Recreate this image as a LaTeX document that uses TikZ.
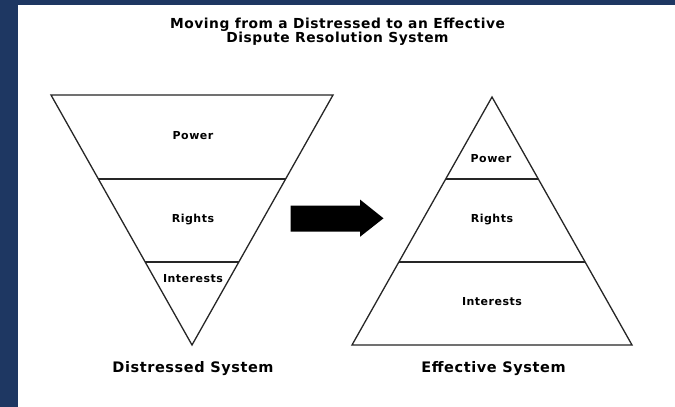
\documentclass[tikz,border=0pt]{standalone}
\usepackage{fontspec}
\setmainfont{DejaVu Sans}
\begin{document}
\begin{tikzpicture}[x=1pt,y=-1pt,
  edge/.style={draw=black!85,line width=1.3pt,line join=miter},
  tier/.style={font=\fontsize{11}{13}\selectfont\bfseries\addfontfeature{LetterSpace=4.5},anchor=mid,inner sep=0pt},
  caption/.style={font=\fontsize{14.5}{17}\selectfont\bfseries\addfontfeature{LetterSpace=4},anchor=mid,inner sep=0pt},
  heading/.style={font=\fontsize{13.8}{15}\selectfont\bfseries\addfontfeature{LetterSpace=4},anchor=base,inner sep=0pt}]
\definecolor{frame}{RGB}{30,55,98}
\useasboundingbox (0,0) rectangle (675,407);
\fill[white] (0,0) rectangle (675,407);
% dark frame along the left and top edges
\fill[frame] (0,0) rectangle (18,407);
\fill[frame] (0,0) rectangle (675,5);

% title
\node[heading] (title1) at (337.5,28.5) {Moving from a Distressed to an Effective};
\node[heading] (title2) at (337.5,42.5) {Dispute Resolution System};

% inverted triangle: distressed system
\coordinate (dTL) at (51,95);
\coordinate (dTR) at (333,95);
\coordinate (dTip) at (192,345);
\draw[edge] (dTL) -- (dTR) -- (dTip) -- cycle;
\draw[edge] (98.4,179) -- (285.6,179);
\draw[edge] (145,262) -- (239,262);
\node[tier] (dPower) at (193,137) {Power};
\node[tier] (dRights) at (193,220) {Rights};
\node[tier] (dInterests) at (193,280) {Interests};
\node[caption] (dCap) at (193,369.5) {Distressed System};

% upright triangle: effective system
\coordinate (eTop) at (492,97);
\coordinate (eBL) at (352,345);
\coordinate (eBR) at (632,345);
\draw[edge] (eTop) -- (eBR) -- (eBL) -- cycle;
\draw[edge] (446,179) -- (538,179);
\draw[edge] (399,262) -- (585,262);
\node[tier] (ePower) at (491,160) {Power};
\node[tier] (eRights) at (492,220) {Rights};
\node[tier] (eInterests) at (492,303) {Interests};
\node[caption] (eCap) at (493.5,369.5) {Effective System};

% block arrow between the two systems
\fill[black] (290.5,205.5) -- (360,205.5) -- (360,199.5) -- (383.5,218.3)
  -- (360,236.8) -- (360,231.5) -- (290.5,231.5) -- cycle;
\end{tikzpicture}
\end{document}
